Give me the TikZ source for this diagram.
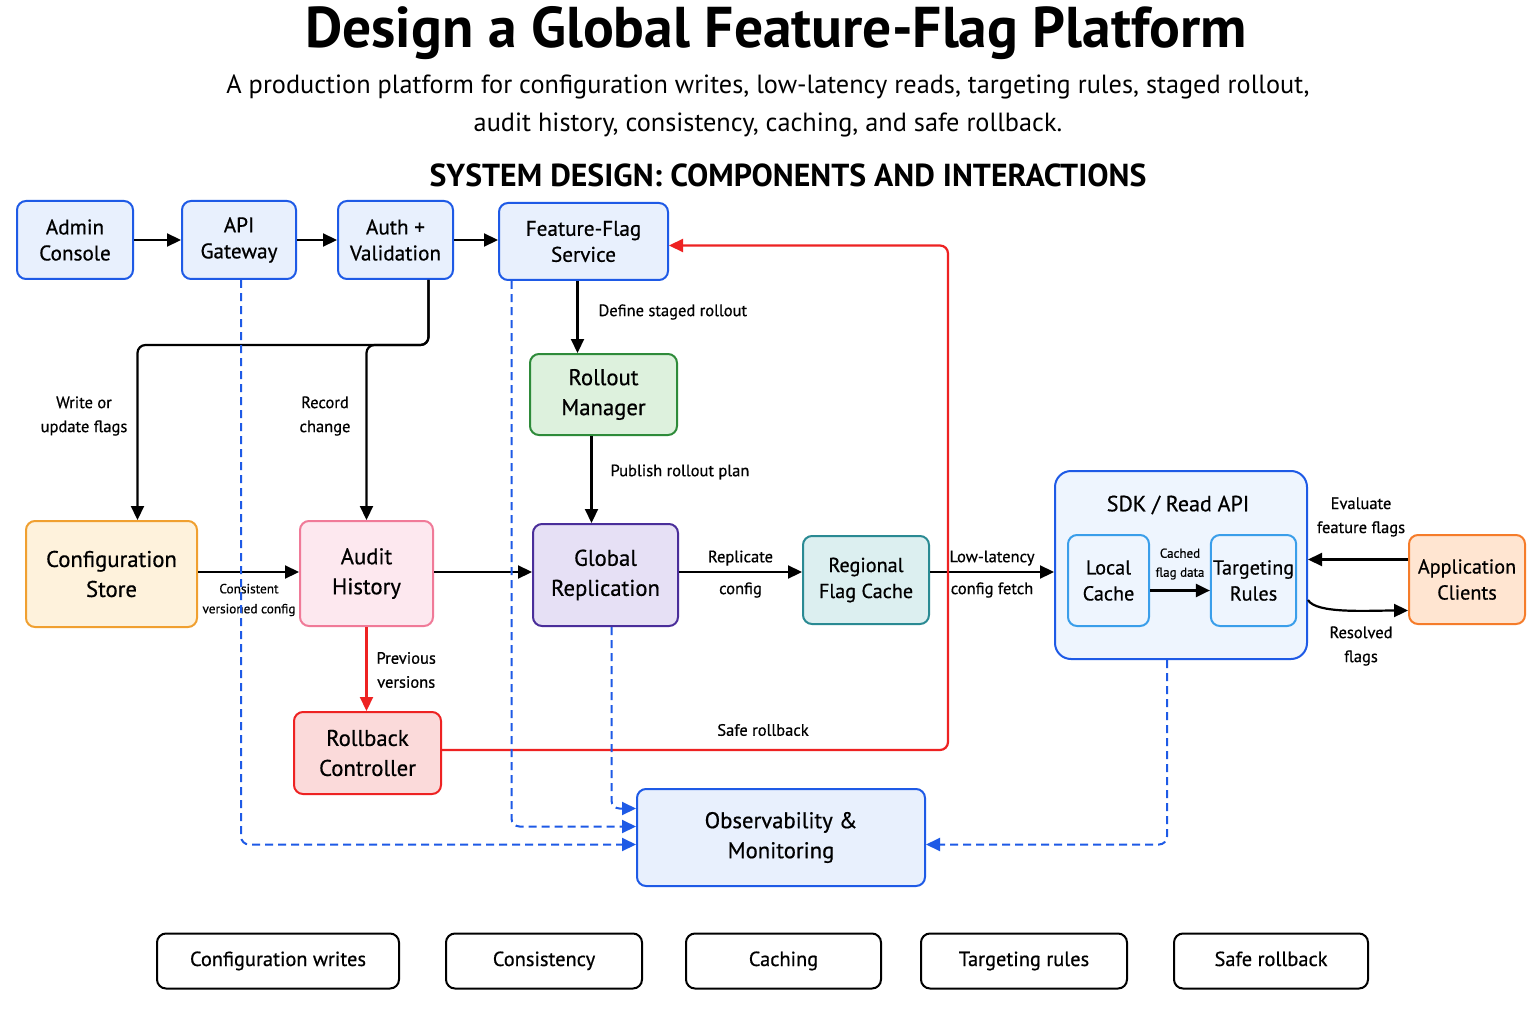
\documentclass[tikz,border=0pt]{standalone}
\usepackage{fontspec}
\setmainfont{PT Sans}
\newfontfamily\medfont{PT Sans}[FakeBold=0.6]
\usepackage{tikz}
\usetikzlibrary{arrows.meta, positioning, calc}
\definecolor{flagblue}{HTML}{1E5AE6}
\definecolor{flagbluebg}{HTML}{E8F0FD}
\definecolor{skyline}{HTML}{3A9EEA}
\definecolor{skybg}{HTML}{EEF5FE}
\definecolor{rollgreen}{HTML}{2E8B3A}
\definecolor{rollgreenbg}{HTML}{DDF1DD}
\definecolor{storeamber}{HTML}{F0A030}
\definecolor{storeamberbg}{HTML}{FEF2DC}
\definecolor{auditpink}{HTML}{F07A98}
\definecolor{auditpinkbg}{HTML}{FDE8EF}
\definecolor{replpurple}{HTML}{4A2E9A}
\definecolor{replpurplebg}{HTML}{E6E0F5}
\definecolor{cacheteal}{HTML}{2A8A93}
\definecolor{cachetealbg}{HTML}{DCEFF0}
\definecolor{rbred}{HTML}{EE2222}
\definecolor{rbredbg}{HTML}{FBDADA}
\definecolor{clientorange}{HTML}{F57C2A}
\definecolor{clientorangebg}{HTML}{FFE5D1}

\begin{document}
\begin{tikzpicture}[x=1pt, y=-1pt,
    box/.style={draw, line width=2pt, rounded corners=9pt, align=center, inner sep=2pt,
                font=\medfont\fontsize{21.2}{26}\selectfont},
    bigbox/.style={box, font=\medfont\fontsize{22.7}{30}\selectfont},
    smallbox/.style={box, font=\medfont\fontsize{20.2}{26}\selectfont},
    pill/.style={draw, line width=2pt, rounded corners=9pt, fill=white, minimum height=55pt,
                 text height=14pt, text depth=4pt, font=\medfont\fontsize{20.4}{24}\selectfont},
    lbl/.style={align=center, font=\medfont\fontsize{16.5}{24}\selectfont},
    tinylbl/.style={align=center, font=\medfont\fontsize{13.3}{20}\selectfont},
    flow/.style={line width=2.2pt, -{Triangle[length=14pt, width=13pt]}},
    redflow/.style={flow, draw=rbred, -{Triangle[length=14pt, width=13pt, fill=rbred]}},
    obsflow/.style={line width=2pt, draw=flagblue, dash pattern=on 8pt off 5pt,
                    rounded corners=8pt, -{Triangle[length=14pt, width=13pt, fill=flagblue]}}
]
    \fill[white] (0,0) rectangle (1536,1024);
    \useasboundingbox (0,0) rectangle (1536,1024);

    \node[font=\fontsize{57.5}{62}\selectfont\bfseries] (title) at (776,33)
        {Design a Global Feature-Flag Platform};
    \node[align=center, font=\fontsize{26.3}{38}\selectfont] (subtitle) at (768,106)
        {A production platform for configuration writes, low-latency reads, targeting rules, staged rollout,\\
         audit history, consistency, caching, and safe rollback.};
    \node[font=\fontsize{31.8}{36}\selectfont\bfseries] (section) at (788,175)
        {SYSTEM DESIGN: COMPONENTS AND INTERACTIONS};

    \node[box, draw=flagblue, fill=flagbluebg, minimum width=116pt, minimum height=78pt] (admin) at (75,240) {Admin\\Console};
    \node[box, draw=flagblue, fill=flagbluebg, minimum width=114pt, minimum height=78pt] (api) at (239,240) {API\\Gateway};
    \node[box, draw=flagblue, fill=flagbluebg, minimum width=115pt, minimum height=78pt] (auth) at (395.5,240) {Auth +\\Validation};
    \node[box, draw=flagblue, fill=flagbluebg, minimum width=169pt, minimum height=77pt] (ffs) at (583.5,241.5) {Feature-Flag\\Service};
    \node[bigbox, draw=rollgreen, fill=rollgreenbg, minimum width=147pt, minimum height=81pt] (roll) at (603.5,394.5) {Rollout\\Manager};
    \node[bigbox, draw=storeamber, fill=storeamberbg, minimum width=171pt, minimum height=106pt] (cfg) at (111.5,574) {Configuration\\Store};
    \node[bigbox, draw=auditpink, fill=auditpinkbg, minimum width=133pt, minimum height=105pt] (aud) at (366.5,573.5) {Audit\\History};
    \node[bigbox, draw=replpurple, fill=replpurplebg, minimum width=145pt, minimum height=102pt] (repl) at (605.5,575) {Global\\Replication};
    \node[smallbox, draw=cacheteal, fill=cachetealbg, minimum width=126pt, minimum height=88pt] (reg) at (866,580) {Regional\\Flag Cache};
    \node[box, draw=flagblue, fill=skybg, minimum width=252pt, minimum height=188pt, rounded corners=16pt] (sdk) at (1181,565) {};
    \node[font=\medfont\fontsize{22}{26}\selectfont] (sdktitle) at (1178,505) {SDK / Read API};
    \node[smallbox, draw=skyline, fill=skybg, minimum width=81pt, minimum height=91pt] (loc) at (1108.5,580.5) {Local\\Cache};
    \node[smallbox, draw=skyline, fill=skybg, minimum width=81pt, minimum height=91pt] (tgt) at (1253.5,580.5) {Targeting\\Rules};
    \node[smallbox, draw=clientorange, fill=clientorangebg, minimum width=116pt, minimum height=89pt] (app) at (1467,579.5) {Application\\Clients};
    \node[bigbox, draw=rbred, fill=rbredbg, minimum width=147pt, minimum height=82pt] (rb) at (367.5,753) {Rollback\\Controller};
    \node[bigbox, draw=flagblue, fill=flagbluebg, minimum width=288pt, minimum height=97pt] (obs) at (781,837.5) {Observability \&\\Monitoring};

    \draw[flow] (admin) -- (api);
    \draw[flow] (api) -- (auth);
    \draw[flow] (auth) -- (auth -| ffs.west);
    \draw[flow, rounded corners=8pt] ([xshift=33pt]auth.south) -- ++(0,65) -| ([xshift=26pt]cfg.north);
    \draw[flow, rounded corners=8pt] ([xshift=33pt]auth.south) -- ++(0,65) -| (aud.north);
    \node[lbl] (writelbl) at (84,416) {Write or\\update flags};
    \node[lbl] (recordlbl) at (325,416) {Record\\change};

    \draw[flow] ([xshift=-6pt]ffs.south) -- ([xshift=-6pt]ffs.south |- roll.north);
    \node[lbl, anchor=west] (definelbl) at (595,312) {Define staged rollout};
    \draw[flow] ([xshift=-12pt]roll.south) -- ([xshift=-12pt]roll.south |- repl.north);
    \node[lbl, anchor=west] (publishlbl) at (607,472) {Publish rollout plan};

    \coordinate (row) at (0,572);
    \draw[flow] (row -| cfg.east) -- (row -| aud.west);
    \node[tinylbl] (consistlbl) at (249,600) {Consistent\\versioned config};
    \draw[flow] (row -| aud.east) -- (row -| repl.west);
    \draw[flow] (row -| repl.east) -- (row -| reg.west)
        node[midway, lbl, above=2pt] (replicatelbl) {Replicate}
        node[midway, lbl, below=6pt] (configlbl) {config};
    \draw[flow] (row -| reg.east) -- (row -| sdk.west)
        node[midway, lbl, above=2pt] (lowlbl) {Low-latency}
        node[midway, lbl, below=6pt] (fetchlbl) {config fetch};

    \draw[flow] ([yshift=-10pt]loc.east) -- ([yshift=-10pt]loc.east -| tgt.west);
    \node[align=center, font=\medfont\fontsize{13}{19}\selectfont] (cachedlbl) at (1180,564) {Cached\\flag data};

    \draw[flow] ([yshift=20pt]app.west) -- ([yshift=20pt]app.west -| sdk.east);
    \node[lbl] (evallbl) at (1361,517) {Evaluate\\feature flags};
    \draw[flow] ([yshift=-35pt]sdk.east) .. controls +(8,14) and +(-40,0) .. ([yshift=-31pt]app.west);
    \node[lbl] (resolvedlbl) at (1361,646) {Resolved\\flags};

    \draw[redflow] (aud.south) -- (aud.south |- rb.north);
    \node[lbl, anchor=west] (prevlbl) at (373,670) {Previous\\versions};
    \draw[redflow, rounded corners=8pt] ([yshift=3pt]rb.east) -- ++(506,0) |- ([yshift=-4pt]ffs.east);
    \node[lbl] (safelbl) at (763,730) {Safe rollback};

    \draw[obsflow] ([xshift=2pt]api.south) |- ([yshift=-7pt]obs.west);
    \draw[obsflow] ([xshift=-72pt]ffs.south) |- ([yshift=11pt]obs.west);
    \draw[obsflow] ([xshift=6pt]repl.south) |- ([yshift=29pt]obs.west);
    \draw[obsflow] ([xshift=-14pt]sdk.south) |- ([yshift=-7pt]obs.east);

    \foreach \lbl/\x/\w/\nm in {
        Configuration writes/278/242/writes,
        Consistency/544/196/consistency,
        Caching/783.5/195/caching,
        Targeting rules/1024/206/targeting,
        Safe rollback/1271/194/rollback
    }{
        \node[pill, minimum width=\w pt] (\nm) at (\x,961) {\lbl};
    }
\end{tikzpicture}
\end{document}
